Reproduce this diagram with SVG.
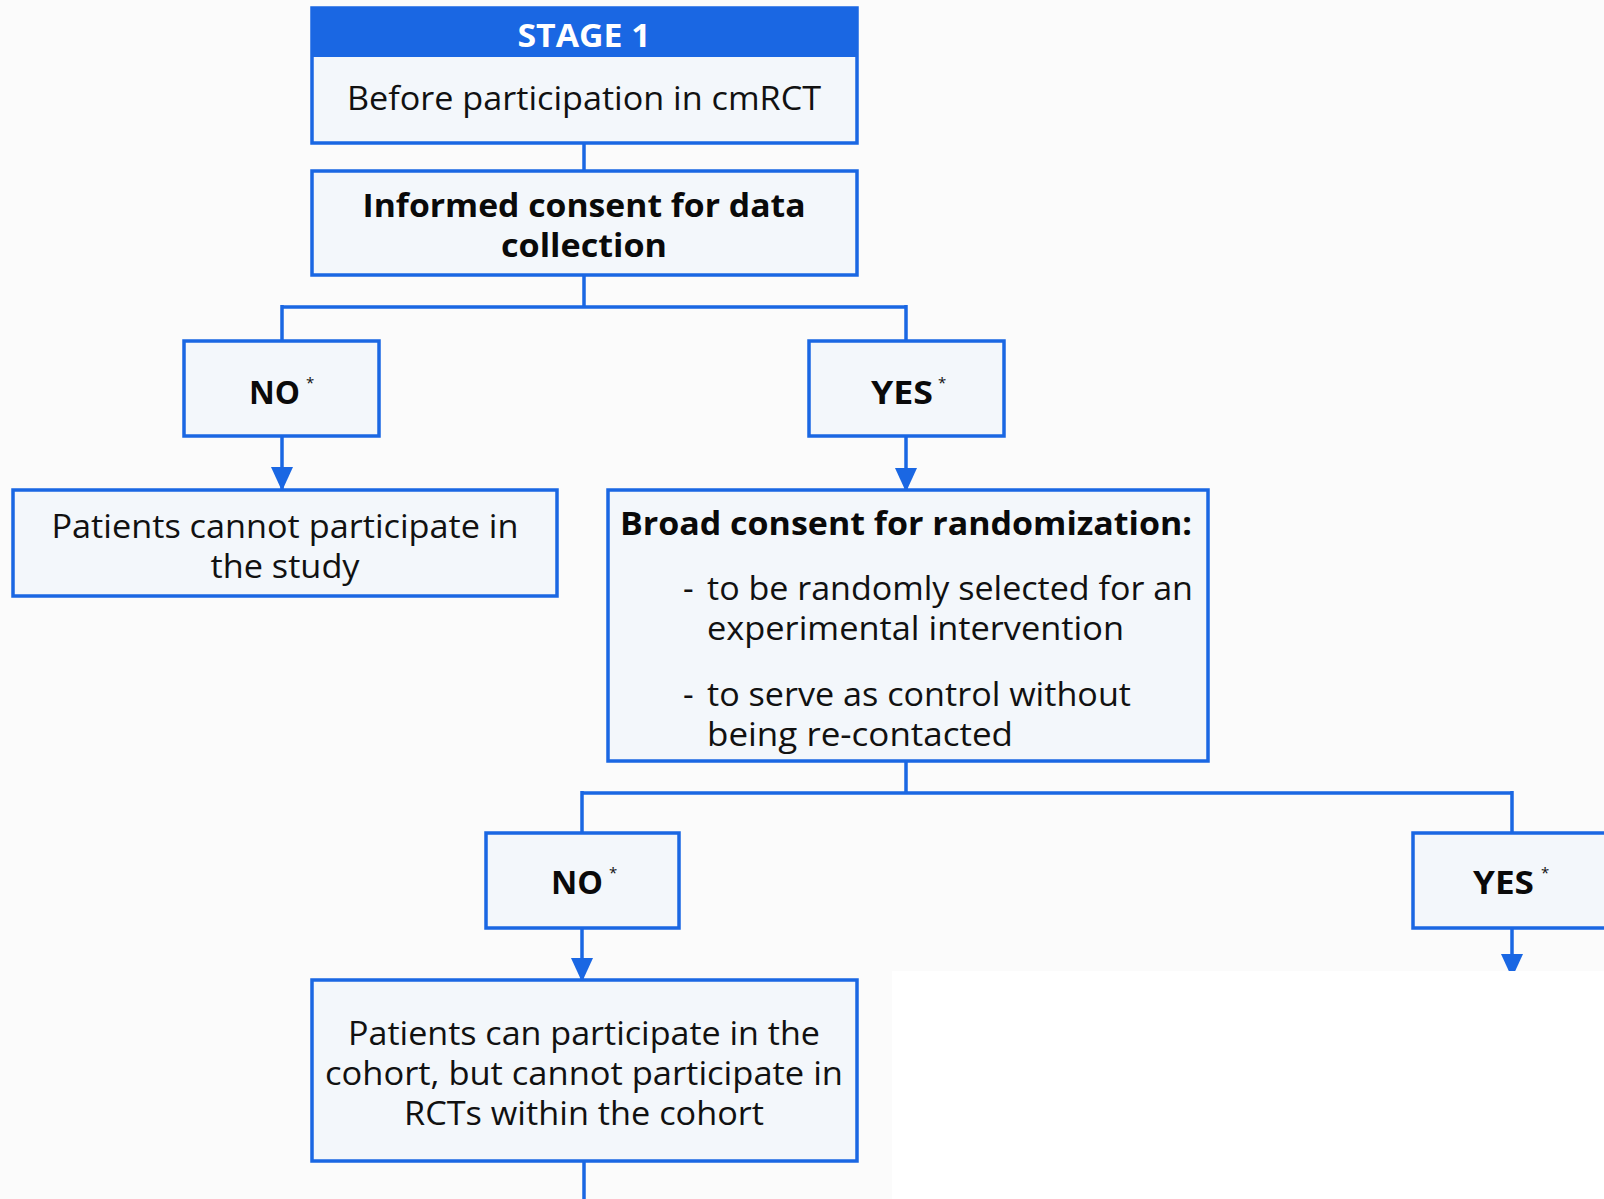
<svg xmlns="http://www.w3.org/2000/svg" width="1604" height="1199" viewBox="0 0 1604 1199">
<style>
.box{fill:#f3f7fb;stroke:#1a67e3;stroke-width:3.5}
.con{fill:none;stroke:#1a67e3;stroke-width:3.5}
.t{font-family:"Open Sans","Noto Sans","Liberation Sans",sans-serif;font-size:33px;fill:#111}
.b{font-family:"Open Sans","Noto Sans","Liberation Sans",sans-serif;font-size:33px;font-weight:bold;fill:#0a0a0a}
.m{text-anchor:middle}
.ast{font-family:"Open Sans","Liberation Sans",sans-serif;font-size:15px;fill:#111}
.hdr{font-family:"Open Sans","Noto Sans","Liberation Sans",sans-serif;font-size:33px;font-weight:bold;fill:#fff;text-anchor:middle}
</style>
<defs>
<marker id="arr" markerUnits="userSpaceOnUse" markerWidth="24" markerHeight="28" refX="22" refY="11" orient="auto">
<polygon points="0,0 24,11 0,22" fill="#1a67e3"/>
</marker>
</defs>
<rect x="0" y="0" width="1604" height="1199" fill="#fbfbfb"/>

<g id="connectors">
<line class="con" x1="584" y1="143" x2="584" y2="171"/>
<path class="con" d="M584,275 V307 M282,307 H906 M282,305 V341 M906,305 V341"/>
<line class="con" x1="282" y1="436" x2="282" y2="489" marker-end="url(#arr)"/>
<line class="con" x1="906" y1="436" x2="906" y2="490" marker-end="url(#arr)"/>
<path class="con" d="M906,761 V793 M582,793 H1512 M582,791 V833 M1512,791 V833"/>
<line class="con" x1="582" y1="928" x2="582" y2="980" marker-end="url(#arr)"/>
<line class="con" x1="1512" y1="928" x2="1512" y2="976" marker-end="url(#arr)"/>
<line class="con" x1="584" y1="1161" x2="584" y2="1199"/>
</g>

<g id="stage1">
<rect class="box" x="312" y="8" width="545" height="135"/>
<rect x="312" y="8" width="545" height="49" fill="#1a67e3"/>
<text class="hdr" x="584" y="47" textLength="133" lengthAdjust="spacingAndGlyphs">STAGE 1</text>
<text class="t m" x="584" y="110" textLength="474" lengthAdjust="spacingAndGlyphs">Before participation in cmRCT</text>
</g>

<g id="consent">
<rect class="box" x="312" y="171" width="545" height="104"/>
<text class="b m" x="584" y="217" textLength="443" lengthAdjust="spacingAndGlyphs">Informed consent for data</text>
<text class="b m" x="584" y="257" textLength="166" lengthAdjust="spacingAndGlyphs">collection</text>
</g>

<g id="no1">
<rect class="box" x="184" y="341" width="195" height="95"/>
<text class="b" x="249" y="404" textLength="51" lengthAdjust="spacingAndGlyphs">NO</text>
<text class="ast" x="306" y="388">*</text>
</g>

<g id="yes1">
<rect class="box" x="809" y="341" width="195" height="95"/>
<text class="b" x="871" y="404" textLength="62" lengthAdjust="spacingAndGlyphs">YES</text>
<text class="ast" x="938" y="388">*</text>
</g>

<g id="cannot">
<rect class="box" x="13" y="490" width="544" height="106"/>
<text class="t m" x="285" y="538" textLength="467" lengthAdjust="spacingAndGlyphs">Patients cannot participate in</text>
<text class="t m" x="285" y="578" textLength="149" lengthAdjust="spacingAndGlyphs">the study</text>
</g>

<g id="broad">
<rect class="box" x="608" y="490" width="600" height="271"/>
<text class="b" x="620" y="535" textLength="572" lengthAdjust="spacingAndGlyphs">Broad consent for randomization:</text>
<text class="t" x="683" y="600">-</text>
<text class="t" x="707" y="600" textLength="486" lengthAdjust="spacingAndGlyphs">to be randomly selected for an</text>
<text class="t" x="707" y="640" textLength="417" lengthAdjust="spacingAndGlyphs">experimental intervention</text>
<text class="t" x="683" y="706">-</text>
<text class="t" x="707" y="706" textLength="424" lengthAdjust="spacingAndGlyphs">to serve as control without</text>
<text class="t" x="707" y="746" textLength="306" lengthAdjust="spacingAndGlyphs">being re-contacted</text>
</g>

<g id="no2">
<rect class="box" x="486" y="833" width="193" height="95"/>
<text class="b" x="551" y="894" textLength="52" lengthAdjust="spacingAndGlyphs">NO</text>
<text class="ast" x="609" y="878">*</text>
</g>

<g id="yes2">
<rect class="box" x="1413" y="833" width="200" height="95"/>
<text class="b" x="1473" y="894" textLength="61" lengthAdjust="spacingAndGlyphs">YES</text>
<text class="ast" x="1541" y="878">*</text>
</g>

<g id="cando">
<rect class="box" x="312" y="980" width="545" height="181"/>
<text class="t m" x="584" y="1045" textLength="472" lengthAdjust="spacingAndGlyphs">Patients can participate in the</text>
<text class="t m" x="584" y="1085" textLength="518" lengthAdjust="spacingAndGlyphs">cohort, but cannot participate in</text>
<text class="t m" x="584" y="1125" textLength="360" lengthAdjust="spacingAndGlyphs">RCTs within the cohort</text>
</g>

<rect x="892" y="971" width="712" height="228" fill="#ffffff"/>
</svg>
